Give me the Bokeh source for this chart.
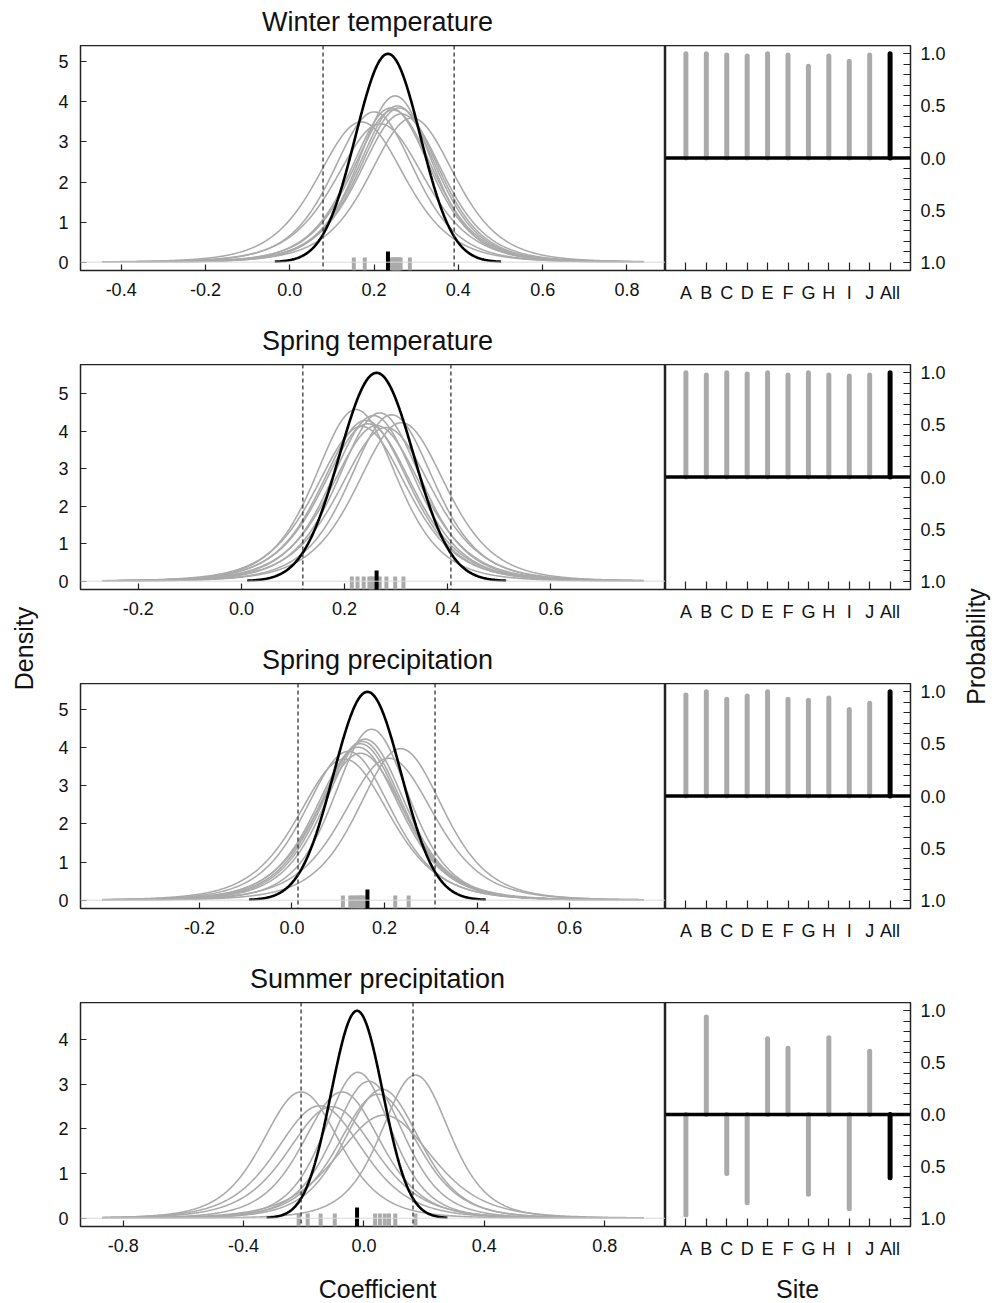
import math
import numpy as np
from bokeh.plotting import figure
from bokeh.layouts import row, column
from bokeh.models import Range1d, Span, FixedTicker, PrintfTickFormatter, CustomJSTickFormatter
from bokeh.embed import file_html
from bokeh.resources import INLINE
from bokeh.core.properties import value

# ---------------- data ----------------
sites = ["A", "B", "C", "D", "E", "F", "G", "H", "I", "J", "All"]
site_pos = [1, 2, 3, 4, 5, 6, 7, 8, 9, 10, 11]

panel_titles = ["Winter temperature", "Spring temperature",
                "Spring precipitation", "Summer precipitation"]
x_title = "Coefficient"
site_title = "Site"
left_title = "Density"
right_title = "Probability"

# Winter temperature
winter_domain = [-0.445, 0.84]
winter_modes = [0.170, 0.200, 0.215, 0.240, 0.245, 0.250, 0.255, 0.260, 0.265, 0.290]
winter_peaks = [3.50, 3.75, 3.45, 3.85, 3.80, 4.15, 3.90, 3.85, 3.70, 3.60]
winter_all_mode = 0.233
winter_all_peak = 5.20
winter_ci = [0.079, 0.390]
winter_rug = [0.152, 0.178, 0.242, 0.245, 0.249, 0.252, 0.256, 0.259, 0.263, 0.285]
winter_rug_all = 0.233
winter_xticks = [-0.4, -0.2, 0.0, 0.2, 0.4, 0.6, 0.8]
winter_yticks = [0, 1, 2, 3, 4, 5]
winter_prob = [1.0, 1.0, 0.99, 0.98, 1.0, 0.99, 0.88, 0.98, 0.93, 0.99, 1.0]

# Spring temperature
sprt_domain = [-0.27, 0.78]
sprt_modes = [0.222, 0.233, 0.241, 0.245, 0.256, 0.262, 0.268, 0.280, 0.291, 0.310]
sprt_peaks = [4.58, 4.13, 4.29, 4.20, 4.42, 4.15, 4.49, 4.10, 4.44, 4.23]
sprt_all_mode = 0.262
sprt_all_peak = 5.56
sprt_ci = [0.119, 0.406]
sprt_rug = [0.214, 0.225, 0.237, 0.248, 0.252, 0.255, 0.268, 0.281, 0.298, 0.314]
sprt_rug_all = 0.262
sprt_xticks = [-0.2, 0.0, 0.2, 0.4, 0.6]
sprt_yticks = [0, 1, 2, 3, 4, 5]
sprt_prob = [1.0, 0.98, 1.0, 0.99, 1.0, 0.98, 1.0, 0.98, 0.97, 0.98, 1.0]

# Spring precipitation
sprp_domain = [-0.41, 0.76]
sprp_modes = [0.113, 0.122, 0.143, 0.148, 0.148, 0.152, 0.158, 0.172, 0.209, 0.235]
sprp_peaks = [3.70, 3.90, 4.01, 4.10, 3.85, 4.16, 4.22, 4.48, 3.72, 3.97]
sprp_all_mode = 0.163
sprp_all_peak = 5.46
sprp_ci = [0.013, 0.309]
sprp_rug = [0.110, 0.126, 0.132, 0.137, 0.142, 0.147, 0.151, 0.155, 0.223, 0.252]
sprp_rug_all = 0.163
sprp_xticks = [-0.2, 0.0, 0.2, 0.4, 0.6]
sprp_yticks = [0, 1, 2, 3, 4, 5]
sprp_prob = [0.97, 1.0, 0.93, 0.96, 1.0, 0.93, 0.92, 0.94, 0.83, 0.89, 1.0]

# Summer precipitation
sump_domain = [-0.87, 0.93]
sump_modes = [-0.209, -0.147, -0.107, -0.073, -0.020, 0.016, 0.047, 0.060, 0.067, 0.171]
sump_peaks = [2.83, 2.52, 2.50, 2.83, 3.27, 3.07, 2.78, 2.89, 2.31, 3.21]
sump_all_mode = -0.023
sump_all_peak = 4.65
sump_ci = [-0.209, 0.163]
sump_rug = [-0.217, -0.187, -0.144, -0.097, 0.037, 0.053, 0.069, 0.083, 0.104, 0.171]
sump_rug_all = -0.023
sump_xticks = [-0.8, -0.4, 0.0, 0.4, 0.8]
sump_yticks = [0, 1, 2, 3, 4]
sump_prob = [-0.97, 0.94, -0.57, -0.85, 0.73, 0.64, -0.77, 0.74, -0.91, 0.61, -0.61]

# site curves are heavy-tailed (Student-t like); degrees of freedom read from tail shape
site_tail_df = 5

# ---------------- styling ----------------
FONT = "Liberation Sans"
GRAY = "#aaaaaa"
FRAME = "#222222"
TICK_FS = "18px"
FRAME_H = 225
DENS_W = 32 + 585
BAR_W = 245 + 50
TITLE_H = 45
ROW_H = 319
LAST_H = 304
BOTTOM_H = 40
LEFT_W = 48
RIGHT_W = 35


def style_axis(ax, tick_len, standoff):
    ax.axis_line_color = None
    ax.major_tick_in = tick_len
    ax.major_tick_out = 0
    ax.major_tick_line_color = FRAME
    ax.major_tick_line_width = 1.2
    ax.minor_tick_line_color = FRAME
    ax.minor_tick_line_width = 1.2
    ax.major_label_text_font = FONT
    ax.major_label_text_font_size = TICK_FS
    ax.major_label_text_color = "#111111"
    ax.major_label_standoff = standoff


def t_curve(xs, mode, peak, df):
    c = math.gamma((df + 1) / 2) / (math.sqrt(df * math.pi) * math.gamma(df / 2))
    scale = c / peak
    z = (xs - mode) / scale
    return peak * (1 + z ** 2 / df) ** (-(df + 1) / 2)


def density_fig(domain, modes, peaks, all_mode, all_peak, ci, rug, rug_all,
                xticks, yticks, height, bottom):
    lo, hi = domain
    pad = 0.04 * (hi - lo)
    ymax = max(all_peak, max(peaks))
    y_lo, y_hi = -0.04 * ymax, 1.04 * ymax
    p = figure(width=DENS_W, height=height,
               x_range=Range1d(lo - pad, hi + pad), y_range=Range1d(y_lo, y_hi),
               output_backend="svg", toolbar_location=None,
               min_border_left=32, min_border_right=0,
               min_border_top=0, min_border_bottom=bottom)
    p.grid.visible = False
    p.outline_line_color = FRAME
    p.outline_line_width = 1.5

    p.add_layout(Span(location=0, dimension="width", line_color="#d9d9d9", line_width=1))

    xs = np.linspace(lo, hi, 600)
    for m, pk in zip(modes, peaks):
        p.line(xs, t_curve(xs, m, pk, site_tail_df), line_color=GRAY, line_width=1.6)
    sd = 1.0 / (all_peak * np.sqrt(2 * np.pi))
    xb = np.linspace(all_mode - 3.5 * sd, all_mode + 3.5 * sd, 300)
    p.line(xb, all_peak * np.exp(-0.5 * ((xb - all_mode) / sd) ** 2),
           line_color="black", line_width=2.6)

    for c in ci:
        p.add_layout(Span(location=c, dimension="height", line_color="#333333",
                          line_width=1.3, line_dash="4 3"))

    per_px = (y_hi - y_lo) / FRAME_H
    p.segment(x0=rug, x1=rug, y0=[y_lo] * len(rug), y1=[y_lo + 13 * per_px] * len(rug),
              line_color=GRAY, line_width=4, line_cap="butt")
    p.segment(x0=[rug_all], x1=[rug_all], y0=[y_lo], y1=[y_lo + 19 * per_px],
              line_color="black", line_width=4, line_cap="butt")

    p.xaxis.ticker = FixedTicker(ticks=xticks)
    p.xaxis.formatter = PrintfTickFormatter(format="%.1f")
    p.yaxis.ticker = FixedTicker(ticks=yticks)
    p.yaxis.formatter = PrintfTickFormatter(format="%d")
    style_axis(p.xaxis[0], 6, 12)
    style_axis(p.yaxis[0], 6, 12)
    return p


def bar_fig(probs, height, bottom):
    p = figure(width=BAR_W, height=height,
               x_range=Range1d(0, 12), y_range=Range1d(-1.08, 1.08),
               y_axis_location="right",
               output_backend="svg", toolbar_location=None,
               min_border_left=0, min_border_right=50,
               min_border_top=0, min_border_bottom=bottom)
    p.grid.visible = False
    p.outline_line_color = FRAME
    p.outline_line_width = 1.5
    p.segment(x0=site_pos[:-1], x1=site_pos[:-1], y0=[0] * 10, y1=probs[:-1],
              line_color=GRAY, line_width=5, line_cap="round")
    p.segment(x0=[site_pos[-1]], x1=[site_pos[-1]], y0=[0], y1=[probs[-1]],
              line_color="black", line_width=5, line_cap="round")
    p.add_layout(Span(location=0, dimension="width", line_color="black", line_width=3.5))

    p.xaxis.ticker = FixedTicker(ticks=site_pos)
    p.xaxis.major_label_overrides = {pos: s for pos, s in zip(site_pos, sites)}
    p.yaxis.ticker = FixedTicker(ticks=[-1.0, -0.5, 0.0, 0.5, 1.0],
                                 minor_ticks=[round(v, 1) for v in np.arange(-1.0, 1.05, 0.1)])
    p.yaxis.formatter = CustomJSTickFormatter(code="return Math.abs(tick).toFixed(1);")
    style_axis(p.xaxis[0], 8, 12)
    style_axis(p.yaxis[0], 7, 10)
    p.yaxis.minor_tick_in = 7
    p.yaxis.minor_tick_out = 0
    return p


def blank(w, h):
    s = figure(width=w, height=h, x_range=Range1d(0, w), y_range=Range1d(0, h),
               output_backend="svg", toolbar_location=None, min_border=0)
    s.axis.visible = False
    s.grid.visible = False
    s.outline_line_color = None
    return s


panels = [
    (winter_domain, winter_modes, winter_peaks, winter_all_mode, winter_all_peak, winter_ci,
     winter_rug, winter_rug_all, winter_xticks, winter_yticks, winter_prob),
    (sprt_domain, sprt_modes, sprt_peaks, sprt_all_mode, sprt_all_peak, sprt_ci,
     sprt_rug, sprt_rug_all, sprt_xticks, sprt_yticks, sprt_prob),
    (sprp_domain, sprp_modes, sprp_peaks, sprp_all_mode, sprp_all_peak, sprp_ci,
     sprp_rug, sprp_rug_all, sprp_xticks, sprp_yticks, sprp_prob),
    (sump_domain, sump_modes, sump_peaks, sump_all_mode, sump_all_peak, sump_ci,
     sump_rug, sump_rug_all, sump_xticks, sump_yticks, sump_prob),
]

blocks = []
for i, (title, pan) in enumerate(zip(panel_titles, panels)):
    last = i == len(panels) - 1
    h = (LAST_H if last else ROW_H) - TITLE_H
    bottom = h - FRAME_H
    t = blank(DENS_W + BAR_W, TITLE_H)
    t.text(x=[377 - LEFT_W], y=[TITLE_H - 21], text=[title],
           text_align="center", text_baseline="middle",
           text_font=value(FONT), text_font_size=value("27px"), text_color="#111111")
    d = density_fig(*pan[:10], height=h, bottom=bottom)
    b = bar_fig(pan[10], height=h, bottom=bottom)
    blocks.append(t)
    blocks.append(row(d, b))

TOTAL_H = ROW_H * 3 + LAST_H + BOTTOM_H


def side_strip(w, text, x, y_from_top):
    s = blank(w, TOTAL_H)
    s.text(x=[x], y=[TOTAL_H - y_from_top], text=[text], angle=np.pi / 2,
           text_align="center", text_baseline="middle",
           text_font=value(FONT), text_font_size=value("25px"), text_color="#111111")
    return s


bottom_strip = blank(DENS_W + BAR_W, BOTTOM_H)
bottom_strip.text(x=[377 - LEFT_W, 797 - LEFT_W], y=[BOTTOM_H - 27, BOTTOM_H - 27],
                  text=[x_title, site_title], text_align="center", text_baseline="middle",
                  text_font=value(FONT), text_font_size=value("25px"), text_color="#111111")

left = side_strip(LEFT_W, left_title, 23, 648)
right = side_strip(RIGHT_W, right_title, 15, 646)

layout = row(left, column(*blocks, bottom_strip), right)

with open("out.html", "w") as f:
    f.write(file_html(layout, INLINE))
